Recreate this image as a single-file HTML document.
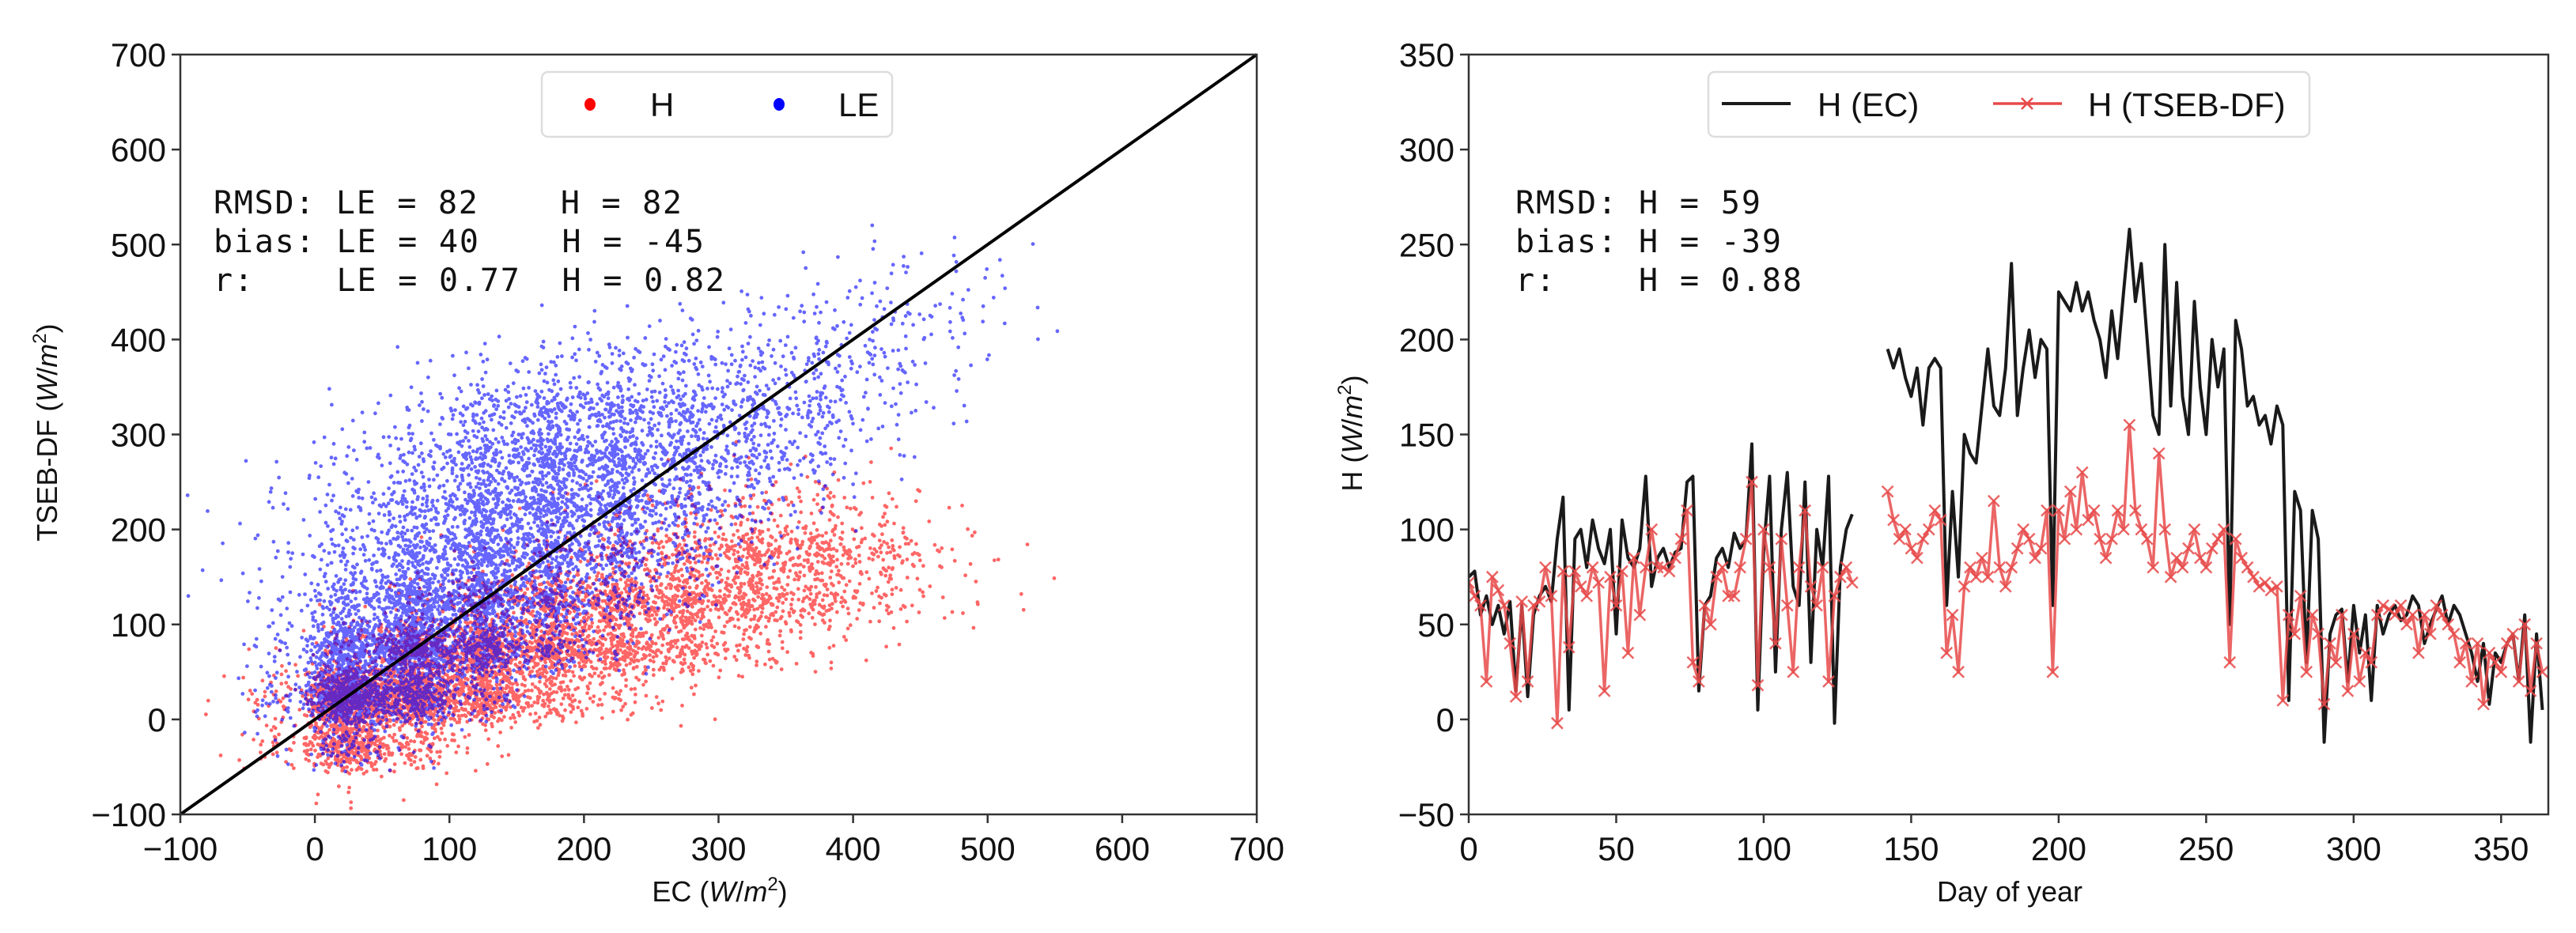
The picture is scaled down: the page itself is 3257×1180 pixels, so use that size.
<!DOCTYPE html>
<html><head><meta charset="utf-8"><style>
html,body{margin:0;padding:0;background:#fff;}
svg{display:block;}
text{font-family:"Liberation Sans",sans-serif;}
.mono{font-family:"DejaVu Sans Mono","Liberation Mono",monospace;}
</style></head><body>
<svg id="chart" width="3257" height="1180" viewBox="0 0 3257 1180" xmlns="http://www.w3.org/2000/svg">
<rect x="0" y="0" width="3257" height="1180" fill="#fff"/>
<g id="left"></g>
<g id="right"></g>
</svg>
<script>
// ---- Scatter data: density grid (points per 50x50 W/m2 cell) ----
const xBins = [-100,-50,0,50,100,150,200,250,300,350,400,450,500,550];
const yBins = [500,450,400,350,300,250,200,150,100,50,0,-50,-100];
const hRows = [
 [0,0,0,0,0,0,0,0,0,0,0,0,0,0],
 [0,0,0,0,0,0,0,0,0,0,0,0,0,0],
 [0,0,0,0,0,0,0,0,0,0,0,0,0,0],
 [0,0,0,0,0,0,0,0,0,0,0,0,0,0],
 [0,0,0,0,0,0,0,0,0,0,0,0,0,0],
 [0,0,0,0,0,0,0,2,3,4,2,0,0,0],
 [0,0,0,0,0,5,12,25,40,40,20,3,0,0],
 [0,0,0,2,10,35,75,120,170,150,75,15,2,0],
 [0,0,5,30,110,200,240,230,190,110,40,10,3,0],
 [0,5,60,280,400,340,240,140,55,15,3,0,0,0],
 [5,40,650,600,350,140,45,10,0,0,0,0,0,0],
 [3,40,400,120,15,0,0,0,0,0,0,0,0,0],
 [0,0,10,3,0,0,0,0,0,0,0,0,0,0]
];
const leRows = [
 [0,0,0,0,0,0,0,0,0,0,2,0,0,0],
 [0,0,0,0,0,0,0,0,0,4,10,8,3,0],
 [0,0,0,0,0,2,4,8,14,22,30,18,4,1],
 [0,0,0,4,14,30,45,50,55,50,35,10,0,0],
 [0,0,6,20,80,140,140,120,95,70,20,4,0,0],
 [0,5,20,60,150,230,200,150,95,40,6,0,0,0],
 [2,10,40,110,210,230,190,110,40,10,0,0,0,0],
 [2,14,70,180,260,240,150,55,12,0,0,0,0,0],
 [2,20,140,320,340,210,80,18,0,0,0,0,0,0],
 [0,30,380,500,300,100,20,0,0,0,0,0,0,0],
 [0,45,600,320,60,0,0,0,0,0,0,0,0,0],
 [0,8,90,15,0,0,0,0,0,0,0,0,0,0],
 [0,0,0,0,0,0,0,0,0,0,0,0,0,0]
];
const scatterTicks = [-100,0,100,200,300,400,500,600,700];

// ---- Time series data (every 2 days) ----
const ecValues = [75,78,55,65,50,60,45,62,15,60,12,55,65,70,62,95,117,5,95,100,80,105,90,82,100,45,105,85,80,90,128,70,85,90,80,88,90,125,128,15,60,65,85,90,80,98,90,95,145,5,90,128,25,100,130,70,60,125,30,100,80,128,-2,80,100,108,null,null,null,null,null,195,185,195,180,170,185,155,185,190,185,60,120,75,150,140,135,165,195,165,160,185,240,160,185,205,180,200,195,60,225,220,215,230,215,225,210,200,180,215,190,225,258,220,240,200,160,150,250,165,230,170,150,220,175,150,200,175,195,50,210,195,165,170,155,160,145,165,155,10,120,110,30,110,95,-12,45,55,58,20,60,35,55,10,60,45,55,60,52,55,65,60,40,50,58,65,50,60,55,45,35,20,40,8,35,30,40,45,20,55,-12,45,5];
const tsebValues = [72,65,60,20,75,68,60,40,12,62,20,60,62,80,65,-2,78,38,78,70,65,80,72,15,75,60,78,35,85,55,80,100,80,80,78,85,95,110,30,20,60,50,75,80,65,65,80,95,125,18,100,80,40,95,60,25,80,110,70,60,80,20,65,75,80,72,null,null,null,null,null,120,105,95,100,90,85,95,100,110,105,35,55,25,70,80,75,85,75,115,80,70,80,90,100,95,85,90,110,25,110,95,120,100,130,105,110,95,85,95,110,100,155,110,100,95,80,140,100,75,85,80,90,100,85,80,90,95,100,30,95,85,80,75,70,72,68,70,10,55,45,65,25,55,45,8,40,30,55,15,45,20,35,30,55,60,58,55,60,50,55,35,55,45,60,55,50,45,30,40,20,40,8,35,30,25,40,45,20,50,15,40,25];
const dayStep = 2;
const tsYTicks = [-50,0,50,100,150,200,250,300,350];
const tsXTicks = [0,50,100,150,200,250,300,350];

const NS = "http://www.w3.org/2000/svg";
function mk(tag, attrs, parent){
  const e = document.createElementNS(NS, tag);
  for (const k in attrs) e.setAttribute(k, attrs[k]);
  parent.appendChild(e);
  return e;
}
const L = {x0:228, x1:1589, y0:69, y1:1030};
const sx = v => L.x0 + (v + 100) / 800 * (L.x1 - L.x0);
const sy = v => L.y0 + (700 - v) / 800 * (L.y1 - L.y0);
const R = {x0:1857, x1:3222, y0:69, y1:1030};
const tx = v => R.x0 + v / 366 * (R.x1 - R.x0);
const ty = v => R.y0 + (350 - v) / 400 * (R.y1 - R.y0);

function halton(i, b){ let f = 1, r = 0; while (i > 0){ f /= b; r += f * (i % b); i = Math.floor(i / b); } return r; }

const left = document.getElementById('left');
const right = document.getElementById('right');

function drawCloud(rows, color, name, offset){
  const g = mk('g', {}, left);
  
  
  let idx = offset;
  let d = '';
  rows.forEach((row, ri) => {
    row.forEach((n, ci) => {
      for (let k = 0; k < n; k++){
        idx++;
        const vx = xBins[ci] + 25 + 35 * (halton(idx, 2) + halton(idx, 5) - 1);
        const vy = yBins[ri] + 25 + 35 * (halton(idx, 3) + halton(idx, 7) - 1);
        if (vx < -100 || vy < -100) continue;
        const px = sx(vx), py = sy(vy);
        d += 'M' + (px - 2.4).toFixed(1) + ' ' + py.toFixed(1) + 'a2.4 2.4 0 1 0 4.8 0a2.4 2.4 0 1 0 -4.8 0';
      }
    });
  });
  const p = mk('path', {d: d, fill: color, 'fill-opacity': '0.6'}, g);
  
  
}
drawCloud(hRows, '#ff0000', 'h-scatter', 1);
drawCloud(leRows, '#0000ff', 'le-scatter', 50000);

const diag = mk('line', {x1: sx(-100), y1: sy(-100), x2: sx(700), y2: sy(700), stroke: '#000', 'stroke-width': 4}, left);



function frame(parent, A, name){
  const r = mk('rect', {x: A.x0, y: A.y0, width: A.x1 - A.x0, height: A.y1 - A.y0, fill: 'none', stroke: '#333', 'stroke-width': 2.5}, parent);
  
  
}
frame(left, L, 'scatter-plot-frame');

scatterTicks.forEach(v => {
  const X = sx(v);
  mk('line', {x1: X, y1: L.y1, x2: X, y2: L.y1 + 11, stroke: '#333', 'stroke-width': 2.5}, left);
  const t = mk('text', {x: X, y: L.y1 + 58, 'font-size': 42, 'text-anchor': 'middle', fill: '#111'}, left);
  t.textContent = v < 0 ? '\u2212' + (-v) : String(v);
  
  
  const Y = sy(v);
  mk('line', {x1: L.x0 - 11, y1: Y, x2: L.x0, y2: Y, stroke: '#333', 'stroke-width': 2.5}, left);
  const u = mk('text', {x: L.x0 - 18, y: Y + 15, 'font-size': 42, 'text-anchor': 'end', fill: '#111'}, left);
  u.textContent = v < 0 ? '\u2212' + (-v) : String(v);
  
  
});

function seriesPath(vals){
  let d = '', pen = false;
  vals.forEach((v, i) => {
    if (v === null){ pen = false; return; }
    d += (pen ? 'L' : 'M') + tx(i * dayStep).toFixed(1) + ' ' + ty(v).toFixed(1);
    pen = true;
  });
  return d;
}
const clipR = mk('clipPath', {id: 'clipR'}, right);
mk('rect', {x: R.x0, y: R.y0, width: R.x1 - R.x0, height: R.y1 - R.y0}, clipR);
const plotG = mk('g', {'clip-path': 'url(#clipR)'}, right);
const ecLine = mk('path', {d: seriesPath(ecValues), fill: 'none', stroke: '#1a1a1a', 'stroke-width': 4, 'stroke-linejoin': 'round'}, plotG);


const tsLine = mk('path', {d: seriesPath(tsebValues), fill: 'none', stroke: '#e84a4a', 'stroke-opacity': '0.85', 'stroke-width': 3.5, 'stroke-linejoin': 'round'}, plotG);


let md = '';
tsebValues.forEach((v, i) => {
  if (v === null) return;
  const X = tx(i * dayStep), Y = ty(v);
  md += 'M' + (X - 7) + ' ' + (Y - 7) + 'L' + (X + 7) + ' ' + (Y + 7) + 'M' + (X - 7) + ' ' + (Y + 7) + 'L' + (X + 7) + ' ' + (Y - 7);
});
const marks = mk('path', {d: md, stroke: '#e84a4a', 'stroke-opacity': '0.85', 'stroke-width': 2.5, fill: 'none'}, plotG);



frame(right, R, 'timeseries-plot-frame');
tsXTicks.forEach(v => {
  const X = tx(v);
  mk('line', {x1: X, y1: R.y1, x2: X, y2: R.y1 + 11, stroke: '#333', 'stroke-width': 2.5}, right);
  const t = mk('text', {x: X, y: R.y1 + 58, 'font-size': 42, 'text-anchor': 'middle', fill: '#111'}, right);
  t.textContent = String(v);
  
  
});
tsYTicks.forEach(v => {
  const Y = ty(v);
  mk('line', {x1: R.x0 - 11, y1: Y, x2: R.x0, y2: Y, stroke: '#333', 'stroke-width': 2.5}, right);
  const u = mk('text', {x: R.x0 - 18, y: Y + 15, 'font-size': 42, 'text-anchor': 'end', fill: '#111'}, right);
  u.textContent = v < 0 ? '\u2212' + (-v) : String(v);
  
  
});
</script>
<svg style="position:absolute;left:0;top:0" width="3257" height="1180" viewBox="0 0 3257 1180" xmlns="http://www.w3.org/2000/svg">
  <g>
    <rect x="685" y="91" width="443" height="82" rx="8" fill="#fff" fill-opacity="0.85" stroke="#ddd" stroke-width="2.5"/>
    <ellipse cx="746" cy="132" rx="7" ry="8" fill="#ff0000"/>
    <text x="822" y="147" font-size="42" fill="#111">H</text>
    <ellipse cx="985" cy="132" rx="7" ry="8" fill="#0000ff"/>
    <text x="1060" y="147" font-size="42" fill="#111">LE</text>
  </g>
  <g class="mono" font-size="40" fill="#111">
    <text x="270" y="270" xml:space="preserve" class="mono" textLength="592">RMSD: LE = 82    H = 82</text>
    <text x="270" y="319" xml:space="preserve" class="mono" textLength="620">bias: LE = 40    H = -45</text>
    <text x="270" y="368" xml:space="preserve" class="mono" textLength="646">r:    LE = 0.77  H = 0.82</text>
  </g>
  <text x="910" y="1140" font-size="36" text-anchor="middle" fill="#111">EC (<tspan font-style="italic">W</tspan>/<tspan font-style="italic">m</tspan><tspan font-size="24" dy="-14">2</tspan><tspan dy="14">)</tspan></text>
  <text transform="translate(72,547) rotate(-90)" font-size="36" text-anchor="middle" fill="#111">TSEB-DF (<tspan font-style="italic">W</tspan>/<tspan font-style="italic">m</tspan><tspan font-size="24" dy="-14">2</tspan><tspan dy="14">)</tspan></text>

  <g>
    <rect x="2160" y="91" width="760" height="82" rx="8" fill="#fff" fill-opacity="0.85" stroke="#ddd" stroke-width="2.5"/>
    <line x1="2177" y1="131" x2="2264" y2="131" stroke="#1a1a1a" stroke-width="4"/>
    <text x="2298" y="147" font-size="42" fill="#111">H (EC)</text>
    <line x1="2520" y1="131" x2="2607" y2="131" stroke="#e84a4a" stroke-width="3.5"/>
    <path d="M2556 124L2570 138M2556 138L2570 124" stroke="#e84a4a" stroke-width="2.5"/>
    <text x="2640" y="147" font-size="42" fill="#111">H (TSEB-DF)</text>
  </g>
  <g fill="#111">
    <text x="1916" y="270" class="mono" font-size="40" xml:space="preserve" textLength="310">RMSD: H = 59</text>
    <text x="1916" y="319" class="mono" font-size="40" xml:space="preserve" textLength="336">bias: H = -39</text>
    <text x="1916" y="368" class="mono" font-size="40" xml:space="preserve" textLength="362">r:    H = 0.88</text>
  </g>
  <text x="2541" y="1140" font-size="36" text-anchor="middle" fill="#111">Day of year</text>
  <text transform="translate(1722,548) rotate(-90)" font-size="36" text-anchor="middle" fill="#111">H (<tspan font-style="italic">W</tspan>/<tspan font-style="italic">m</tspan><tspan font-size="24" dy="-14">2</tspan><tspan dy="14">)</tspan></text>
</svg>
</body></html>
